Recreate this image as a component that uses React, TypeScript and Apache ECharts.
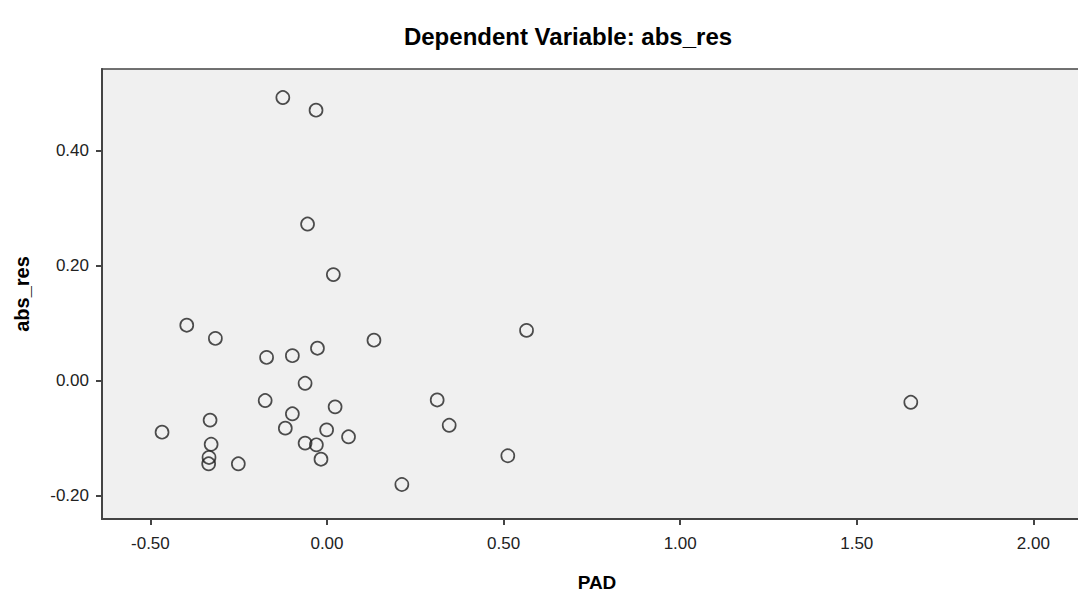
import React, { useEffect, useRef } from "react";
import * as echarts from "echarts";

const padValues: number[] = [
  -0.125, -0.031, -0.055, 0.018, -0.397, -0.316, 0.565, 0.133, -0.027, -0.171,
  -0.098, -0.062, -0.175, 0.312, 0.023, -0.098, -0.331, 0.346, 1.653, -0.467,
  -0.118, -0.001, 0.061, -0.328, -0.062, -0.03, -0.017, -0.334, -0.335, -0.251,
  0.512, 0.212,
];
const absResValues: number[] = [
  0.493, 0.471, 0.273, 0.185, 0.097, 0.074, 0.088, 0.071, 0.057, 0.041,
  0.044, -0.004, -0.034, -0.033, -0.045, -0.057, -0.068, -0.077, -0.037, -0.089,
  -0.082, -0.085, -0.097, -0.11, -0.108, -0.111, -0.136, -0.133, -0.144, -0.144,
  -0.13, -0.18,
];
const xTicks: number[] = [-0.5, 0, 0.5, 1, 1.5, 2];
const yTicks: number[] = [-0.2, 0, 0.2, 0.4];

const titleText = "Dependent Variable: abs_res";
const xName = "PAD";
const yName = "abs_res";

export default function App() {
  const ref = useRef<HTMLDivElement>(null);
  useEffect(() => {
    if (!ref.current) return;
    const chart = echarts.init(ref.current, undefined, { renderer: "svg" });
    const font = "'Liberation Sans', Arial, sans-serif";
    const data = padValues.map((x, i) => [x, absResValues[i]]);
    chart.setOption({
      animation: false,
      backgroundColor: "#ffffff",
      textStyle: { fontFamily: font },
      title: {
        text: titleText,
        left: 563,
        top: 19,
        textAlign: "center",
        textStyle: { fontFamily: font, fontSize: 24, fontWeight: "bold", color: "#000" },
      },
      grid: {
        left: 102,
        top: 69,
        width: 990,
        height: 450,
        outerBoundsMode: "none",
        containLabel: false,
        show: true,
        backgroundColor: "#f0f0f0",
        borderColor: "#444",
        borderWidth: 1.5,
      },
      xAxis: {
        type: "value",
        min: -0.637,
        max: 2.166,
        name: xName,
        nameLocation: "middle",
        nameGap: 54,
        nameTextStyle: { fontFamily: font, fontSize: 19, fontWeight: "bold", color: "#000" },
        splitLine: { show: false },
        axisLine: { show: true, onZero: false, lineStyle: { color: "#444", width: 2 } },
        axisTick: { show: true, inside: false, length: 6, customValues: xTicks, lineStyle: { color: "#444", width: 2 } },
        axisLabel: {
          customValues: xTicks,
          formatter: (v: number) => v.toFixed(2),
          fontFamily: font,
          fontSize: 17,
          color: "#222",
          margin: 16,
        },
      },
      yAxis: {
        type: "value",
        min: -0.24,
        max: 0.5426,
        name: yName,
        nameLocation: "middle",
        nameGap: 70,
        nameTextStyle: { fontFamily: font, fontSize: 20, fontWeight: "bold", color: "#000" },
        splitLine: { show: false },
        axisLine: { show: true, onZero: false, lineStyle: { color: "#444", width: 2 } },
        axisTick: { show: true, inside: false, length: 6, customValues: yTicks, lineStyle: { color: "#444", width: 2 } },
        axisLabel: {
          customValues: yTicks,
          formatter: (v: number) => v.toFixed(2),
          fontFamily: font,
          fontSize: 17,
          color: "#222",
          margin: 13,
        },
      },
      series: [
        {
          type: "scatter",
          data,
          symbol: "circle",
          symbolSize: 13,
          itemStyle: { color: "rgba(0,0,0,0)", borderColor: "#222", borderWidth: 1.7 },
        },
      ],
    });
    return () => chart.dispose();
  }, []);
  return (
    <div
      ref={ref}
      style={{ position: "fixed", left: 0, top: 0, width: 1078, height: 596 }}
    />
  );
}
